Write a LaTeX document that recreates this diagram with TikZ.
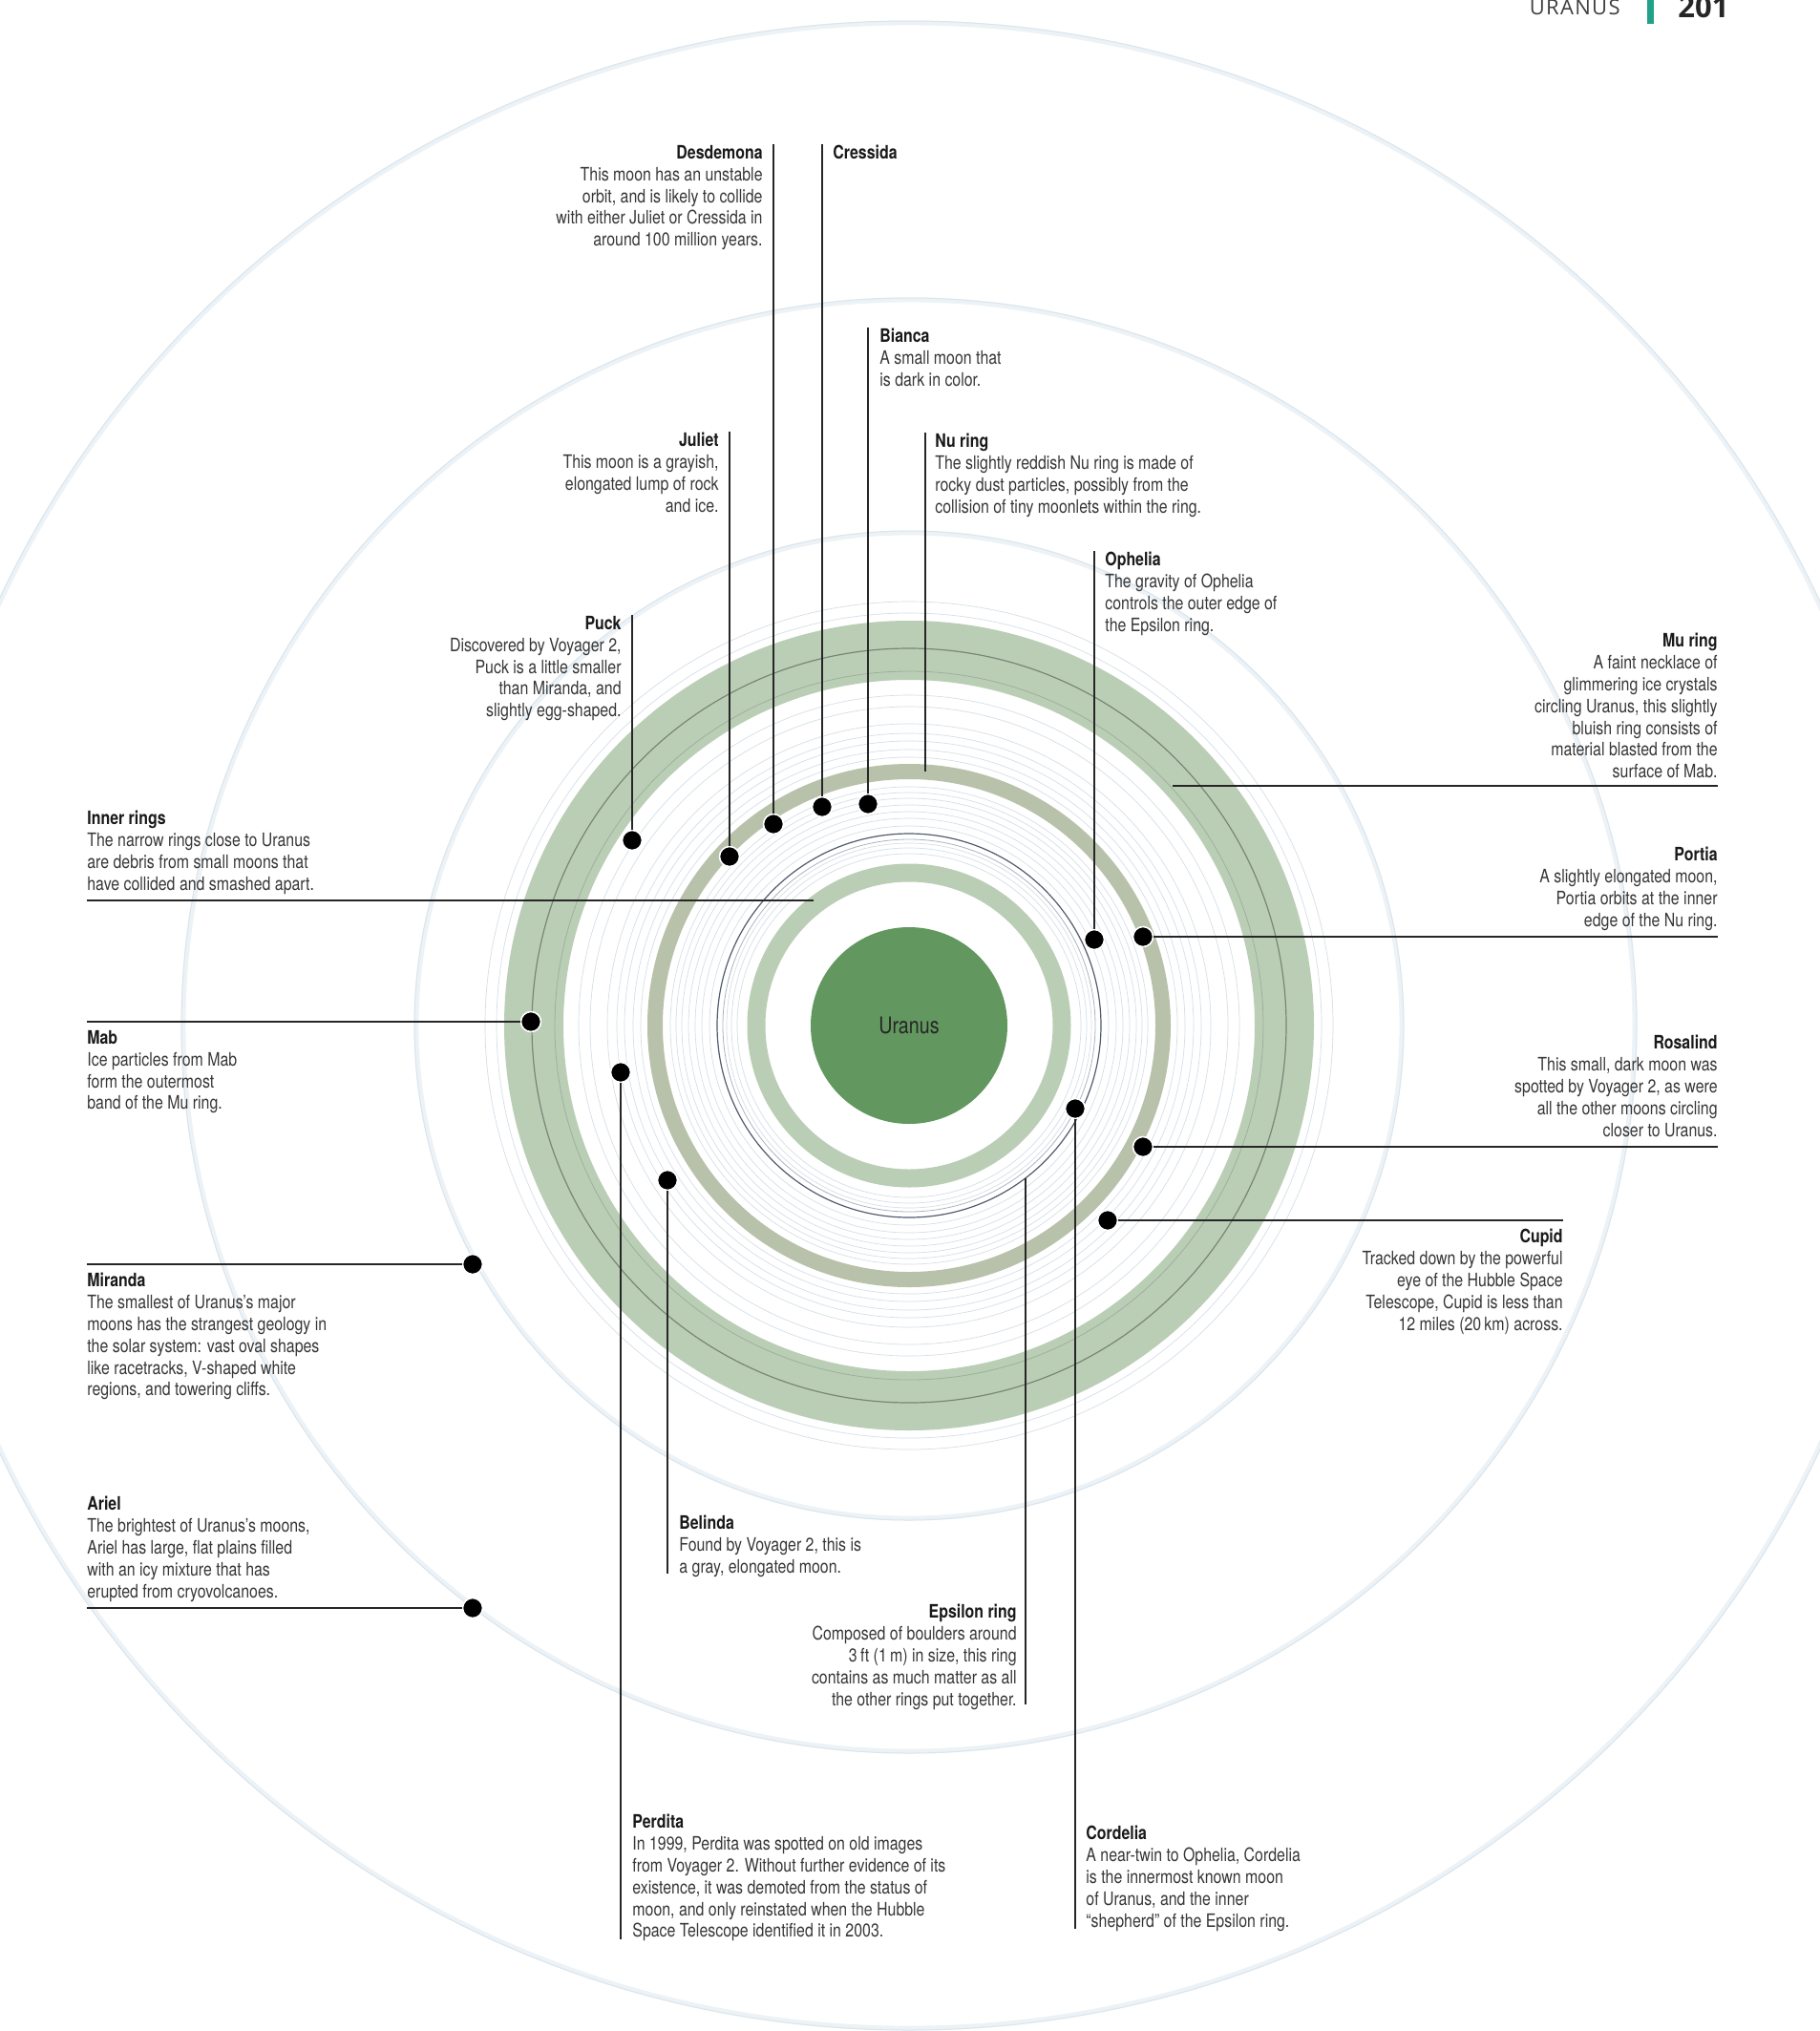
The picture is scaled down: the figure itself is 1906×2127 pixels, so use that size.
\documentclass[tikz,border=0pt]{standalone}
\usepackage{fontspec}
\setmainfont{TeX Gyre Heros}[FakeStretch=0.82]
\newfontfamily\headfont{Open Sans}[LetterSpace=6]
\newfontfamily\numfont{Open Sans}
\definecolor{uranus}{RGB}{98,152,96}
\definecolor{sage}{RGB}{186,206,182}
\definecolor{olivering}{RGB}{184,193,170}
\definecolor{faintc}{RGB}{236,242,246}
\definecolor{faintd}{RGB}{218,229,237}
\definecolor{thinb}{RGB}{212,223,231}
\definecolor{thing}{RGB}{170,180,192}
\definecolor{epsc}{RGB}{80,92,112}
\definecolor{txt}{RGB}{55,55,55}
\definecolor{ttlc}{RGB}{25,25,25}
\definecolor{tealbar}{RGB}{35,160,138}
\newcommand\mttl[1]{{\color{ttlc}\bfseries #1}}
\begin{document}
\begin{tikzpicture}[x=0.5pt,y=-0.5pt,
  moon/.style={circle,fill=black,draw=white,line width=0.8pt,minimum size=10.5pt,inner sep=0pt},
  leader/.style={draw=black!85,line width=0.7pt},
  body/.style={inner sep=0pt,text=txt,font=\fontsize{9.7}{11.4}\selectfont},
  lbl/.style={body,align=left},
  rlbl/.style={body,align=right},
  faintring/.style={draw=faintc,line width=2.4pt},
  faintline/.style={draw=faintd,line width=0.5pt},
  thinring/.style={draw=thinb,line width=0.35pt},
  grayring/.style={draw=thing,line width=0.4pt},
]
\useasboundingbox (0,0) rectangle (1906,2127);
\fill[white] (0,0) rectangle (1906,2127);

% faint outer orbits
\foreach \r in {516,760,1050}{
  \draw[faintring] (952,1074) circle (\r);
  \draw[faintline] (952,1074) circle (\r+2);
}

% Mu ring band
\draw[draw=sage,line width=31pt] (952,1074) circle (393);
\draw[draw=black!35!sage,line width=0.6pt] (952,1074) circle (395);
\draw[draw=black!15!sage,line width=0.4pt] (952,1074) circle (371);
\foreach \r in {432,444}{\draw[thinring] (952,1074) circle (\r);}

% thin rings between Nu and Mu
\foreach \r in {281,289,298,306,316,334,346}{\draw[thinring] (952,1074) circle (\r);}

% Nu ring band
\draw[draw=olivering,line width=8pt] (952,1074) circle (266);

% inner thin rings
\foreach \r in {180,186,191,209,217,224,231,238,244,250}{\draw[thinring] (952,1074) circle (\r);}
\draw[grayring] (952,1074) circle (195);
\draw[draw=epsc,line width=0.6pt] (952,1074) circle (201);

% inner band
\draw[draw=sage,line width=9.5pt] (952,1074) circle (160);

% planet
\node[circle,fill=uranus,minimum size=103pt,inner sep=0pt,
      font=\fontsize{12}{14}\selectfont,text=black!85] (uranus) at (952,1074) {Uranus};

% header
\fill[tealbar] (1725,0) rectangle (1732,25);
\node[anchor=base east,inner sep=0pt,font=\headfont\fontsize{11}{11}\selectfont,text=black!75] (hdr) at (1697,15) {URANUS};
\node[anchor=base west,inner sep=0pt,font=\numfont\bfseries\fontsize{15.5}{15.5}\selectfont,text=black!85] (page) at (1757,18) {201};

% moons
\node[moon] (puck) at (662,880) {};
\node[moon] (juliet) at (764,897) {};
\node[moon] (desdemona) at (810,863) {};
\node[moon] (cressida) at (861,845) {};
\node[moon] (bianca) at (909,842) {};
\node[moon] (ophelia) at (1146,984) {};
\node[moon] (portia) at (1197,981) {};
\node[moon] (mab) at (556,1070) {};
\node[moon] (perdita) at (650,1123) {};
\node[moon] (belinda) at (699,1236) {};
\node[moon] (cordelia) at (1126,1161) {};
\node[moon] (rosalind) at (1197,1201) {};
\node[moon] (cupid) at (1160,1278) {};
\node[moon] (miranda) at (495,1324) {};
\node[moon] (ariel) at (495,1684) {};

% text blocks
\node[rlbl,anchor=north east] (desd-txt) at (799,152) {\mttl{Desdemona}\\This moon has an unstable\\orbit, and is likely to collide\\with either Juliet or Cressida in\\around 100 million years.};
\node[lbl,anchor=north west] (cres-txt) at (872,152) {\mttl{Cressida}};
\node[lbl,anchor=north west] (bian-txt) at (921,344) {\mttl{Bianca}\\A small moon that\\is dark in color.};
\node[rlbl,anchor=north east] (jul-txt) at (753,453) {\mttl{Juliet}\\This moon is a grayish,\\elongated lump of rock\\and ice.};
\node[lbl,anchor=north west] (nu-txt) at (979,454) {\mttl{Nu ring}\\The slightly reddish Nu ring is made of\\rocky dust particles, possibly from the\\collision of tiny moonlets within the ring.};
\node[lbl,anchor=north west] (oph-txt) at (1157,578) {\mttl{Ophelia}\\The gravity of Ophelia\\controls the outer edge of\\the Epsilon ring.};
\node[rlbl,anchor=north east] (puck-txt) at (651,645) {\mttl{Puck}\\Discovered by Voyager 2,\\Puck is a little smaller\\than Miranda, and\\slightly egg-shaped.};
\node[rlbl,anchor=north east] (mu-txt) at (1799,663) {\mttl{Mu ring}\\A faint necklace of\\glimmering ice crystals\\circling Uranus, this slightly\\bluish ring consists of\\material blasted from the\\surface of Mab.};
\node[lbl,anchor=north west] (inner-txt) at (91,849) {\mttl{Inner rings}\\The narrow rings close to Uranus\\are debris from small moons that\\have collided and smashed apart.};
\node[rlbl,anchor=north east] (portia-txt) at (1799,887) {\mttl{Portia}\\A slightly elongated moon,\\Portia orbits at the inner\\edge of the Nu ring.};
\node[lbl,anchor=north west] (mab-txt) at (91,1079) {\mttl{Mab}\\Ice particles from Mab\\form the outermost\\band of the Mu ring.};
\node[rlbl,anchor=north east] (ros-txt) at (1799,1084) {\mttl{Rosalind}\\This small, dark moon was\\spotted by Voyager 2, as were\\all the other moons circling\\closer to Uranus.};
\node[rlbl,anchor=north east] (cupid-txt) at (1637,1287) {\mttl{Cupid}\\Tracked down by the powerful\\eye of the Hubble Space\\Telescope, Cupid is less than\\12 miles (20\,km) across.};
\node[lbl,anchor=north west] (mir-txt) at (91,1333) {\mttl{Miranda}\\The smallest of Uranus’s major\\moons has the strangest geology in\\the solar system: vast oval shapes\\like racetracks, V-shaped white\\regions, and towering cliffs.};
\node[lbl,anchor=north west] (ariel-txt) at (91,1567) {\mttl{Ariel}\\The brightest of Uranus’s moons,\\Ariel has large, flat plains filled\\with an icy mixture that has\\erupted from cryovolcanoes.};
\node[lbl,anchor=north west] (bel-txt) at (711,1587) {\mttl{Belinda}\\Found by Voyager 2, this is\\a gray, elongated moon.};
\node[rlbl,anchor=north east] (eps-txt) at (1065,1680) {\mttl{Epsilon ring}\\Composed of boulders around\\3\,ft (1\,m) in size, this ring\\contains as much matter as all\\the other rings put together.};
\node[lbl,anchor=north west] (perd-txt) at (662,1900) {\mttl{Perdita}\\In 1999, Perdita was spotted on old images\\from Voyager 2. Without further evidence of its\\existence, it was demoted from the status of\\moon, and only reinstated when the Hubble\\Space Telescope identified it in 2003.};
\node[lbl,anchor=north west] (cord-txt) at (1137,1912) {\mttl{Cordelia}\\A near-twin to Ophelia, Cordelia\\is the innermost known moon\\of Uranus, and the inner\\“shepherd” of the Epsilon ring.};

% leader end points
\coordinate (desd-e) at (810,151);
\coordinate (cres-e) at (861,151);
\coordinate (bian-e) at (909,343);
\coordinate (jul-e) at (764,452);
\coordinate (nu-s) at (969,453);
\coordinate (nu-e) at (969,808);
\coordinate (oph-e) at (1146,577);
\coordinate (puck-e) at (662,644);
\coordinate (mu-s) at (1228,823);
\coordinate (mu-e) at (1799,823);
\coordinate (inner-s) at (91,943);
\coordinate (inner-e) at (852,943);
\coordinate (portia-e) at (1799,981);
\coordinate (mab-e) at (91,1070);
\coordinate (ros-e) at (1799,1201);
\coordinate (cupid-e) at (1637,1278);
\coordinate (mir-e) at (91,1324);
\coordinate (ariel-e) at (91,1684);
\coordinate (bel-e) at (699,1648);
\coordinate (eps-s) at (1074,1234);
\coordinate (eps-e) at (1074,1785);
\coordinate (perd-e) at (650,2031);
\coordinate (cord-e) at (1126,2020);

% leaders
\draw[leader] (desdemona) -- (desd-e);
\draw[leader] (cressida) -- (cres-e);
\draw[leader] (bianca) -- (bian-e);
\draw[leader] (juliet) -- (jul-e);
\draw[leader] (nu-e) -- (nu-s);
\draw[leader] (ophelia) -- (oph-e);
\draw[leader] (puck) -- (puck-e);
\draw[leader] (mu-s) -- (mu-e);
\draw[leader] (inner-s) -- (inner-e);
\draw[leader] (portia) -- (portia-e);
\draw[leader] (mab) -- (mab-e);
\draw[leader] (rosalind) -- (ros-e);
\draw[leader] (cupid) -- (cupid-e);
\draw[leader] (miranda) -- (mir-e);
\draw[leader] (ariel) -- (ariel-e);
\draw[leader] (belinda) -- (bel-e);
\draw[leader] (eps-s) -- (eps-e);
\draw[leader] (perdita) -- (perd-e);
\draw[leader] (cordelia) -- (cord-e);
\end{tikzpicture}
\end{document}
